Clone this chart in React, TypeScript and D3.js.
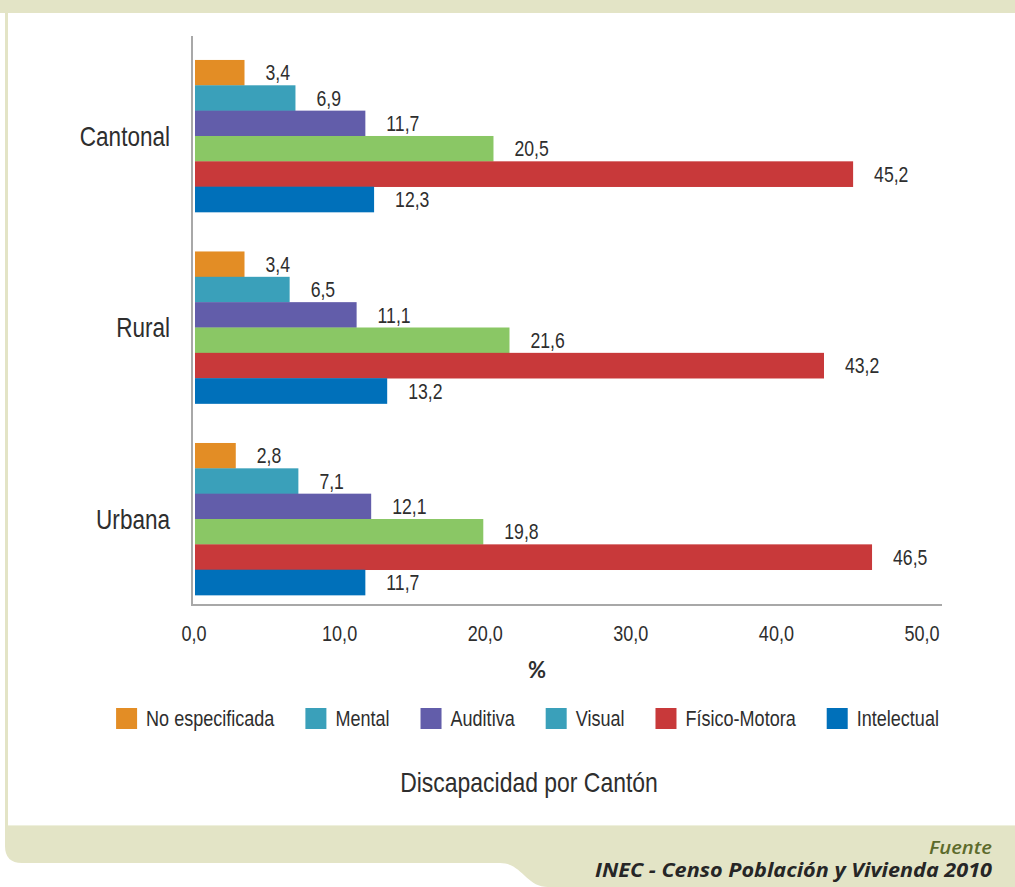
import React, { useEffect, useRef } from "react";
import * as d3 from "d3";

const categories = ["Cantonal", "Rural", "Urbana"];
const seriesNames = ["No especificada", "Mental", "Auditiva", "Visual", "Físico-Motora", "Intelectual"];
const barColors = ["#E38D25", "#3AA0BA", "#625DAA", "#8AC765", "#C8393A", "#0070BA"];
const legendColors = ["#E38D25", "#3AA0BA", "#625DAA", "#3AA0BA", "#C8393A", "#0070BA"];
const cantonalValues = [3.4, 6.9, 11.7, 20.5, 45.2, 12.3];
const ruralValues = [3.4, 6.5, 11.1, 21.6, 43.2, 13.2];
const urbanaValues = [2.8, 7.1, 12.1, 19.8, 46.5, 11.7];
const xTicks = [0, 10, 20, 30, 40, 50];
const axisTitle = "%";
const chartTitle = "Discapacidad por Cantón";
const sourceLabel = "Fuente";
const sourceText = "INEC - Censo Población y Vivienda 2010";

const W = 1015;
const H = 887;
const SANS = "'Liberation Sans', Arial, sans-serif";
const NARROW_SCALE = 0.82;
const TEXT = "#2e2e2e";
const BEIGE = "#e3e4c6";

const fmt = (v: number) => d3.format(".1f")(v).replace(".", ",");

type Sel = d3.Selection<any, any, any, any>;

function narrowText(
  parent: Sel,
  x: number,
  y: number,
  size: number,
  anchor: string,
  str: string,
  central = false
) {
  const t = parent
    .append("text")
    .attr("transform", `translate(${x},${y}) scale(${NARROW_SCALE},1)`)
    .attr("x", 0)
    .attr("y", 0)
    .attr("text-anchor", anchor)
    .attr("font-family", SANS)
    .attr("font-size", size)
    .attr("fill", TEXT)
    .text(str);
  if (central) t.attr("dy", "0.36em");
  return t;
}

export default function App() {
  const ref = useRef<SVGSVGElement | null>(null);

  useEffect(() => {
    const svg = d3.select(ref.current);
    svg.selectAll("*").remove();

    // Frame
    svg.append("rect").attr("x", 0).attr("y", 0).attr("width", W).attr("height", H).attr("fill", "#ffffff");
    svg.append("rect").attr("x", 0).attr("y", 0).attr("width", W).attr("height", 13).attr("fill", BEIGE);
    svg.append("rect").attr("x", 5).attr("y", 0).attr("width", 3).attr("height", 840).attr("fill", BEIGE);
    svg
      .append("path")
      .attr("d", "M5,825 L1015,825 L1015,887 L548,887 C526,887 522,863 500,863 L22,863 Q5,863 5,846 Z")
      .attr("fill", BEIGE);
    svg.append("line").attr("x1", 8).attr("x2", W).attr("y1", 825.5).attr("y2", 825.5)
      .attr("stroke", "#eef0dd").attr("stroke-width", 1);

    const data = [cantonalValues, ruralValues, urbanaValues];

    const x = d3.scaleLinear().domain([0, 50]).range([195, 923]);
    const y0 = d3
      .scaleBand<string>()
      .domain(categories)
      .range([20.5, 634.5])
      .paddingInner(0.206)
      .paddingOuter(0.206);
    const y1 = d3.scaleBand<string>().domain(seriesNames).range([0, y0.bandwidth()]);

    const g = svg.append("g");

    categories.forEach((cat, ci) => {
      const gy = y0(cat) as number;
      const grp = g.append("g");
      grp
        .selectAll("rect")
        .data(data[ci])
        .join("rect")
        .attr("x", x(0))
        .attr("y", (_d, i) => gy + (y1(seriesNames[i]) as number))
        .attr("width", (d) => x(d) - x(0))
        .attr("height", y1.bandwidth() + 0.3)
        .attr("fill", (_d, i) => barColors[i]);
      data[ci].forEach((v, i) => {
        narrowText(
          grp,
          x(v) + 21,
          gy + (y1(seriesNames[i]) as number) + y1.bandwidth() / 2,
          21.5,
          "start",
          fmt(v),
          true
        );
      });
      narrowText(g, 170, gy + y0.bandwidth() / 2, 27.5, "end", cat, true);
    });

    // Axes lines
    g.append("line").attr("x1", 192).attr("x2", 192).attr("y1", 36).attr("y2", 605)
      .attr("stroke", "#a8a8a8").attr("stroke-width", 2);
    g.append("line").attr("x1", 191).attr("x2", 942).attr("y1", 605).attr("y2", 605)
      .attr("stroke", "#a8a8a8").attr("stroke-width", 2);

    // Tick labels
    xTicks.forEach((t) => {
      narrowText(g, x(t) - 1, 641, 22, "middle", fmt(t));
    });

    g.append("text")
      .attr("x", 537)
      .attr("y", 678)
      .attr("text-anchor", "middle")
      .attr("font-family", "Lato, sans-serif")
      .attr("font-weight", 700)
      .attr("font-size", 22)
      .attr("fill", TEXT)
      .text(axisTitle);

    // Legend
    const legend = svg.append("g");
    let cx = 0;
    seriesNames.forEach((name, i) => {
      const it = legend.append("g");
      it.append("rect").attr("x", cx).attr("y", 708).attr("width", 21).attr("height", 21)
        .attr("fill", legendColors[i]);
      const t = narrowText(it, cx + 30, 718.5, 22, "start", name, true);
      const tw = (t.node() as SVGTextElement).getComputedTextLength() * NARROW_SCALE;
      cx += 30 + tw + 31;
    });
    const total = cx - 31;
    legend.attr("transform", `translate(${527.5 - total / 2},0)`);

    // Title
    narrowText(svg, 529, 792, 28, "middle", chartTitle);

    // Source
    svg.append("text")
      .attr("x", 992)
      .attr("y", 854)
      .attr("text-anchor", "end")
      .attr("font-family", "'Open Sans', sans-serif")
      .attr("font-style", "italic")
      .attr("font-weight", 600)
      .attr("font-size", 18.5)
      .attr("fill", "#5d6b2c")
      .attr("textLength", 63)
      .attr("lengthAdjust", "spacingAndGlyphs")
      .text(sourceLabel);
    svg.append("text")
      .attr("x", 992)
      .attr("y", 877)
      .attr("text-anchor", "end")
      .attr("font-family", "'Open Sans', sans-serif")
      .attr("font-style", "italic")
      .attr("font-weight", 700)
      .attr("font-size", 20)
      .attr("fill", "#262626")
      .attr("textLength", 397)
      .attr("lengthAdjust", "spacingAndGlyphs")
      .text(sourceText);
  }, []);

  return (
    <svg
      ref={ref}
      width={W}
      height={H}
      viewBox={`0 0 ${W} ${H}`}
      style={{ position: "absolute", left: 0, top: 0, display: "block" }}
    />
  );
}
